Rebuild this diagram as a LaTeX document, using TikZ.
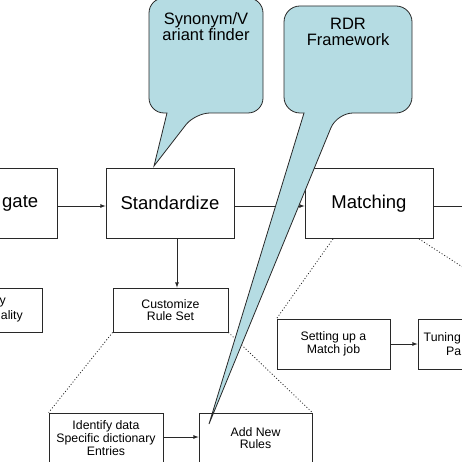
\documentclass[tikz,border=0pt]{standalone}
\usepackage{fontspec}
\setmainfont{Liberation Sans}
\usetikzlibrary{arrows}

\definecolor{calloutblue}{RGB}{181,220,227}
\definecolor{edgegray}{RGB}{40,40,40}

\begin{document}
\begin{tikzpicture}[x=1pt,y=1pt,yscale=-1,
  box/.style={draw=edgegray, fill=white, line width=0.8pt, inner sep=0pt, align=center},
  bigtxt/.style={font=\fontsize{18.5}{22}\selectfont},
  smalltxt/.style={font=\fontsize{12.3}{12.7}\selectfont},
  calltxt/.style={font=\fontsize{16.5}{16}\selectfont, align=center},
  arr/.style={-latex, line width=0.8pt, draw=edgegray},
  dotline/.style={line width=0.8pt, draw=edgegray, dash pattern=on 1pt off 2pt},
  callout/.style={draw=edgegray, fill=calloutblue, line width=0.8pt}]
\path[use as bounding box, clip] (0,0) rectangle (462,462);

% Process boxes
\node[box, minimum width=117, minimum height=70] (aggr) at (-1.5,203) {};
\node[bigtxt, anchor=west, inner sep=0pt] (aggrtxt) at (2,203) {gate};
\node[box, bigtxt, minimum width=128, minimum height=70] (std) at (170,203) {Standardize};
\node[box, bigtxt, minimum width=128, minimum height=70] (match) at (369,203.5) {Matching};
\coordinate (next) at (463,206);

% Sub-step boxes
\node[box, minimum width=124, minimum height=44] (quality) at (-20,310) {};
\node[smalltxt, anchor=east, inner sep=0pt] (qualtxta) at (6,303) {y};
\node[smalltxt, anchor=east, inner sep=0pt] (qualtxtb) at (23,316) {ality};
\node[box, smalltxt, minimum width=115, minimum height=44] (cust) at (170.5,310) {Customize\\Rule Set};
\node[box, smalltxt, minimum width=114, minimum height=50] (ident) at (106,438) {Identify data\\Specific dictionary\\Entries};
\node[box, smalltxt, minimum width=113, minimum height=50] (addrules) at (255.5,438) {Add New\\Rules};
\node[box, smalltxt, minimum width=113, minimum height=50] (setup) at (333.5,344) {Setting up a\\Match job};
\node[box, minimum width=113, minimum height=50] (tune) at (474.5,344) {};
\node[smalltxt, anchor=west, inner sep=0pt] (tunetxta) at (423.5,338) {Tuning};
\node[smalltxt, anchor=west, inner sep=0pt] (tunetxtb) at (446,351) {Pa};
\coordinate (tunedots) at (543,319);

% Arrows
\draw[arr] (aggr.east |- 0,206) -- (std.west |- 0,206);
\draw[arr] (std.east |- 0,206) -- (match.west |- 0,206);
\draw[line width=0.8pt, draw=edgegray] (match.east |- 0,206) -- (next);
\draw[arr] (std.south -| 177,0) -- (cust.north -| 177,0);
\draw[arr] (ident.east |- 0,437) -- (addrules.west |- 0,437);
\draw[arr] (setup.east) -- (tune.west);

% Dotted zoom lines
\draw[dotline] (cust.south west) -- (ident.north west);
\draw[dotline] (cust.south east) -- (addrules.north east);
\draw[dotline] (match.south -| 333,0) -- (setup.north west);
\draw[dotline] (match.south -| 419,0) -- (tunedots);

% Callouts
\draw[callout] (167,113) [rounded corners=15] -- (149,113) -- (149,-2) -- (263,-2) -- (263,113) -- (195,113) [sharp corners] -- (154,166) -- cycle;
\node[calltxt] (syn) at (206,27) {Synonym/V\\ariant finder};

\draw[callout] (304,113) [rounded corners=16] -- (284,113) -- (284,6) -- (412,6) -- (412,113) -- (337,113) [sharp corners] -- (209,424) -- cycle;
\node[calltxt] (rdr) at (348,31.5) {RDR\\Framework};

\end{tikzpicture}
\end{document}
